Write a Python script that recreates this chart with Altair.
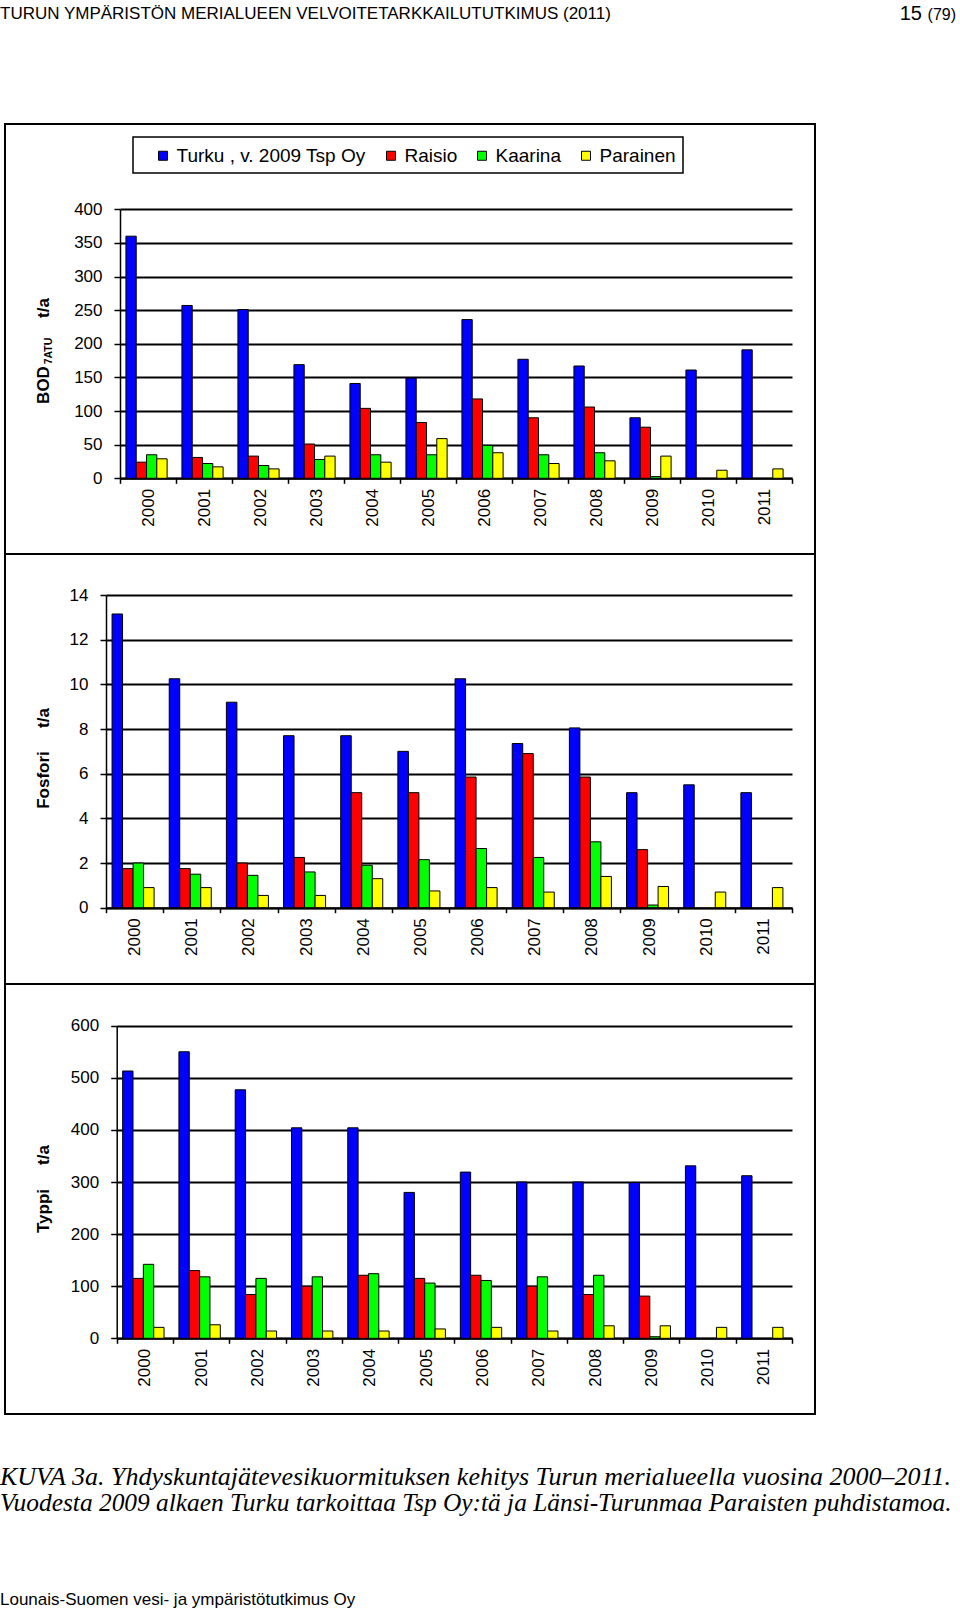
import altair as alt
import pandas as pd

# ---------------- data ----------------
years = ['2000', '2001', '2002', '2003', '2004', '2005', '2006', '2007', '2008', '2009', '2010', '2011']
series = ['Turku , v. 2009 Tsp Oy', 'Raisio', 'Kaarina', 'Parainen']
colors = ['#0000FF', '#FF0000', '#00FF00', '#FFFF00']

bod_turku = [360, 257, 251, 169, 141, 149, 236, 177, 167, 90, 161, 191]
bod_raisio = [24, 31, 33, 51, 104, 83, 118, 90, 106, 76, None, None]
bod_kaarina = [35, 22, 19, 28, 35, 35, 49, 35, 38, 2.5, None, None]
bod_parainen = [29, 17, 14, 33, 24, 59, 38, 22, 26, 33, 12, 14]

p_turku = [13.15, 10.25, 9.2, 7.7, 7.7, 7.0, 10.25, 7.35, 8.05, 5.15, 5.5, 5.15]
p_raisio = [1.75, 1.75, 2.0, 2.25, 5.15, 5.15, 5.85, 6.9, 5.85, 2.6, None, None]
p_kaarina = [2.0, 1.5, 1.45, 1.6, 1.9, 2.15, 2.65, 2.25, 2.95, 0.12, None, None]
p_parainen = [0.9, 0.9, 0.55, 0.55, 1.3, 0.75, 0.9, 0.7, 1.4, 0.95, 0.7, 0.9]

n_turku = [513, 550, 477, 404, 404, 280, 319, 300, 300, 299, 331, 312]
n_raisio = [115, 130, 84, 100, 121, 115, 121, 100, 84, 81, None, None]
n_kaarina = [142, 118, 115, 118, 124, 106, 111, 118, 121, 3, None, None]
n_parainen = [21, 26, 14, 14, 14, 18, 21, 14, 24, 24, 21, 21]

bod_ticks = [0, 50, 100, 150, 200, 250, 300, 350, 400]
p_ticks = [0, 2, 4, 6, 8, 10, 12, 14]
n_ticks = [0, 100, 200, 300, 400, 500, 600]

FONT = 'Liberation Sans'
W, H = 960, 1612
RIGHT = 792


def long_df(cols):
    rows = []
    for s, vals in zip(series, cols):
        for y, v in zip(years, vals):
            if v is not None:
                rows.append({'year': y, 'series': s, 'value': v})
    return pd.DataFrame(rows)


def panel(df, left, top, bottom, dom, ticks, show_legend=False):
    if show_legend:
        leg = alt.Legend(title=None, orient='none', legendX=153.5, legendY=146,
                         direction='horizontal', symbolType='square', symbolSize=81,
                         symbolStrokeColor='black', symbolStrokeWidth=1,
                         labelFont=FONT, labelFontSize=19, labelColor='black',
                         labelLimit=400, labelOffset=4, columnPadding=15, padding=0)
    else:
        leg = None
    return alt.Chart(df).mark_bar(stroke='black', strokeWidth=1).encode(
        x=alt.X('year:N', sort=years,
                scale=alt.Scale(domain=years, range=[left, RIGHT], paddingInner=0, paddingOuter=0),
                axis=alt.Axis(orient='bottom', offset=bottom - H, title=None, labelAngle=270,
                              labelFont=FONT, labelFontSize=17, labelColor='black',
                              labelPadding=5, tickSize=5, tickColor='black', tickWidth=1.5,
                              tickBand='extent', domainColor='black', domainWidth=2, grid=False)),
        xOffset=alt.XOffset('series:N', sort=series,
                            scale=alt.Scale(domain=series, paddingInner=0, paddingOuter=0.72, align=0.4)),
        y=alt.Y('value:Q',
                scale=alt.Scale(domain=dom, range=[bottom, top], nice=False, zero=True),
                axis=alt.Axis(orient='left', offset=-left, title=None, values=ticks,
                              labelFont=FONT, labelFontSize=17, labelColor='black',
                              labelPadding=12, tickSize=6, tickColor='black', tickWidth=1.5,
                              domainColor='black', domainWidth=1.5,
                              grid=True, gridColor='black', gridWidth=2, gridOpacity=1)),
        color=alt.Color('series:N', sort=series,
                        scale=alt.Scale(domain=series, range=colors), legend=leg),
    )


one = pd.DataFrame({'k': [0]})


def txt(s, x, y, size, font=FONT, **kw):
    return alt.Chart(pd.DataFrame({'t': [s]})).mark_text(
        font=font, fontSize=size, color='black', **kw
    ).encode(text='t:N', x=alt.value(x), y=alt.value(y))


frame = alt.Chart(one).mark_rect(fill='white', fillOpacity=0, stroke='black', strokeWidth=2).encode(
    x=alt.value(5), x2=alt.value(815), y=alt.value(124), y2=alt.value(1414))
div1 = alt.Chart(one).mark_rule(color='black', strokeWidth=2).encode(
    x=alt.value(5), x2=alt.value(815), y=alt.value(554))
div2 = alt.Chart(one).mark_rule(color='black', strokeWidth=2).encode(
    x=alt.value(5), x2=alt.value(815), y=alt.value(984))
legbox = alt.Chart(one).mark_rect(fill='white', fillOpacity=0, stroke='black', strokeWidth=1.5).encode(
    x=alt.value(133), x2=alt.value(683), y=alt.value(137), y2=alt.value(173))

p1 = panel(long_df([bod_turku, bod_raisio, bod_kaarina, bod_parainen]), 120, 209.3, 478.3, [0, 400], bod_ticks, True)
p2 = panel(long_df([p_turku, p_raisio, p_kaarina, p_parainen]), 106, 595, 907.7, [0, 14], p_ticks)
p3 = panel(long_df([n_turku, n_raisio, n_kaarina, n_parainen]), 116.7, 1025.7, 1338.3, [0, 600], n_ticks)

texts = [
    txt('TURUN YMPÄRISTÖN MERIALUEEN VELVOITETARKKAILUTUTKIMUS (2011)', 0, 19, 17, align='left', baseline='alphabetic'),
    txt('15', 922, 20, 20, align='right', baseline='alphabetic'),
    txt('(79)', 956, 20, 16, align='right', baseline='alphabetic'),
    # y titles
    txt('BOD', 44, 385, 17, angle=270, fontWeight='bold', align='center', baseline='middle'),
    txt('7ATU', 49, 351, 10.5, angle=270, fontWeight='bold', align='center', baseline='middle'),
    txt('t/a', 44, 308, 17, angle=270, fontWeight='bold', align='center', baseline='middle'),
    txt('Fosfori', 44, 780, 17, angle=270, fontWeight='bold', align='center', baseline='middle'),
    txt('t/a', 44, 718, 17, angle=270, fontWeight='bold', align='center', baseline='middle'),
    txt('Typpi', 44, 1211, 17, angle=270, fontWeight='bold', align='center', baseline='middle'),
    txt('t/a', 44, 1155, 17, angle=270, fontWeight='bold', align='center', baseline='middle'),
    # caption
    txt('KUVA 3a. Yhdyskuntajätevesikuormituksen kehitys Turun merialueella vuosina 2000–2011.',
        0, 1477, 26, font='Liberation Serif', fontStyle='italic', align='left', baseline='middle'),
    txt('Vuodesta 2009 alkaen Turku tarkoittaa Tsp Oy:tä ja Länsi-Turunmaa Paraisten puhdistamoa.',
        0, 1503, 25.4, font='Liberation Serif', fontStyle='italic', align='left', baseline='middle'),
    txt('Lounais-Suomen vesi- ja ympäristötutkimus Oy', 0, 1600, 17, align='left', baseline='middle'),
]

chart = alt.layer(frame, div1, div2, legbox, p1, p2, p3, *texts).resolve_scale(
    x='independent', y='independent', xOffset='independent'
).properties(
    width=W, height=H, padding=0,
    autosize=alt.AutoSizeParams(type='none'),
    background='white'
).configure_view(strokeWidth=0)

chart.save('out.html', embed_options={'renderer': 'svg', 'actions': False})
